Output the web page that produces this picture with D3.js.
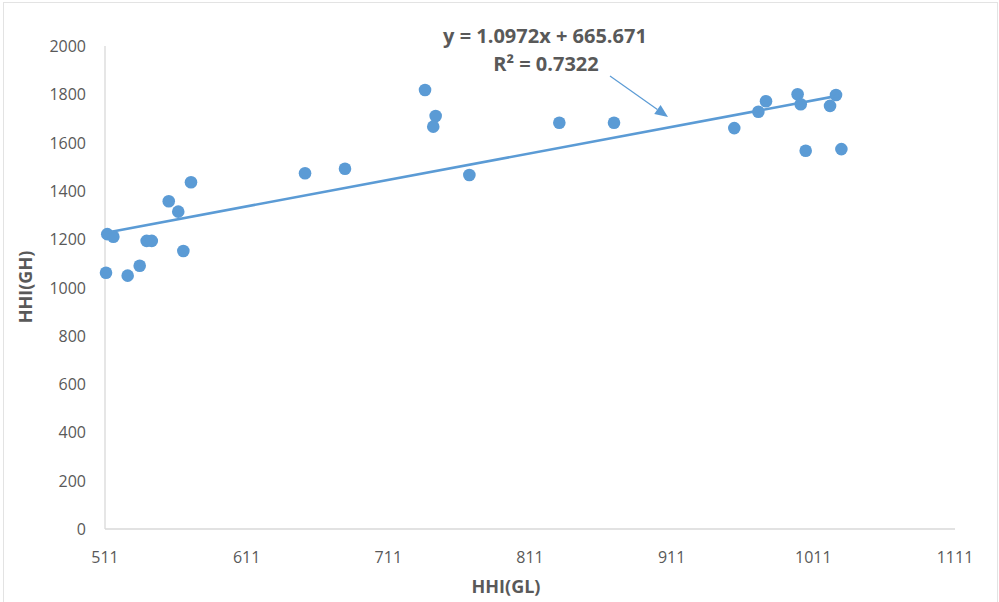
<!DOCTYPE html>
<html><head><meta charset="utf-8">
<script src="https://cdn.jsdelivr.net/npm/d3@7"></script>
<style>body{margin:0;background:#fff;}svg{display:block;font-family:"Open Sans","Liberation Sans",sans-serif;}</style>
</head><body><svg id="c" width="999" height="602"></svg>
<script>
const xValues = [511.7,512.6,516.9,527.0,535.5,540.4,544.0,556.0,562.7,566.3,571.7,652.2,680.4,736.9,744.4,742.7,768.2,831.7,870.3,955.2,972.2,977.6,999.9,1002.1,1005.6,1022.8,1027.0,1030.8];
const yValues = [1061,1221,1210,1049,1090,1193,1193,1357,1314,1151,1436,1473,1492,1818,1710,1666,1466,1682,1682,1660,1728,1771,1800,1759,1566,1752,1797,1573];
const xTicks = [511,611,711,811,911,1011,1111];
const yTicks = [0,200,400,600,800,1000,1200,1400,1600,1800,2000];
const slope = 1.0972, intercept = 665.671;
const eqLabel = "y = 1.0972x + 665.671";
const r2Label = "R² = 0.7322";
const xTitle = "HHI(GL)", yTitle = "HHI(GH)";

const svg = d3.select("#c");
const blue = "#5B9BD5", grey = "#595959", axisC = "#d9d9d9";
svg.append("rect").attr("x",3.5).attr("y",2.5).attr("width",994).attr("height",620).attr("fill","none").attr("stroke","#e3e3e3");

const x = d3.scaleLinear().domain([511,1111]).range([105,955]);
const y = d3.scaleLinear().domain([0,2000]).range([529,46]);

svg.append("line").attr("x1",105).attr("x2",105).attr("y1",y(2000)).attr("y2",y(0)).attr("stroke",axisC).attr("stroke-width",1.3);
svg.append("line").attr("x1",105).attr("x2",955).attr("y1",y(0)).attr("y2",y(0)).attr("stroke",axisC).attr("stroke-width",1.3);

svg.selectAll(".yt").data(yTicks).join("text").attr("x",86).attr("y",d=>y(d)+6).attr("text-anchor","end")
  .attr("font-size",16).attr("fill",grey).text(d=>d);
svg.selectAll(".xt").data(xTicks).join("text").attr("x",d=>x(d)).attr("y",563).attr("text-anchor","middle")
  .attr("font-size",16).attr("fill",grey).text(d=>d);

svg.append("text").attr("x",506).attr("y",593).attr("text-anchor","middle").attr("font-size",18).attr("font-weight","bold").attr("fill",grey).text(xTitle);
svg.append("text").attr("transform","translate(32,287) rotate(-90)").attr("text-anchor","middle").attr("font-size",18).attr("font-weight","bold").attr("fill",grey).text(yTitle);

const pts = xValues.map((v,i)=>[v,yValues[i]]);
const xmin = d3.min(xValues), xmax = d3.max(xValues);
svg.selectAll(".pt").data(pts).join("circle").attr("cx",d=>x(d[0])).attr("cy",d=>y(d[1])).attr("r",6.3).attr("fill",blue);

svg.append("line").attr("x1",x(xmin)).attr("y1",y(slope*xmin+intercept)).attr("x2",x(xmax)).attr("y2",y(slope*xmax+intercept))
  .attr("stroke",blue).attr("stroke-width",2.6);

svg.append("text").attr("x",545).attr("y",43).attr("text-anchor","middle").attr("font-size",20).attr("font-weight","bold").attr("fill",grey).text(eqLabel);
svg.append("text").attr("x",546).attr("y",71).attr("text-anchor","middle").attr("font-size",20).attr("font-weight","bold").attr("fill",grey).text(r2Label);

// arrow
const ax1=610, ay1=76, ax2=668, ay2=117;
const ang = Math.atan2(ay2-ay1, ax2-ax1);
const L=13, W=5.5;
const bx = ax2 - L*Math.cos(ang), by = ay2 - L*Math.sin(ang);
svg.append("line").attr("x1",ax1).attr("y1",ay1).attr("x2",bx).attr("y2",by).attr("stroke",blue).attr("stroke-width",1.2);
svg.append("path").attr("d",`M${ax2},${ay2}L${bx - W*Math.sin(ang)},${by + W*Math.cos(ang)}L${bx + W*Math.sin(ang)},${by - W*Math.cos(ang)}Z`).attr("fill",blue);
</script></body></html>
